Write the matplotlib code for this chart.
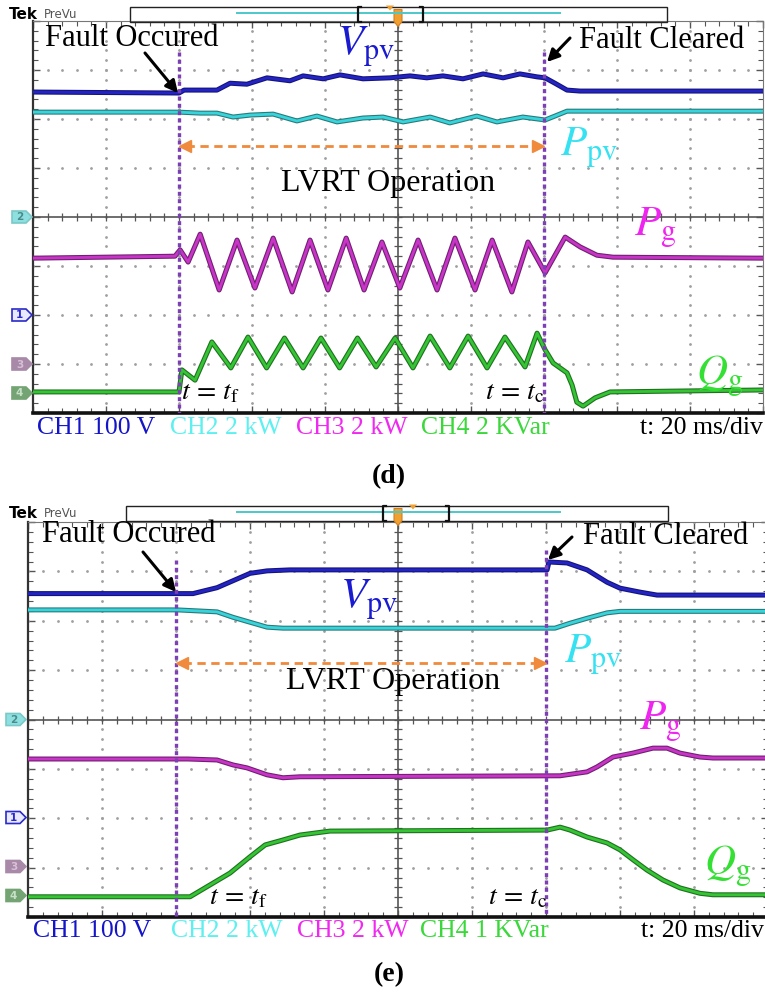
import numpy as np
import matplotlib.pyplot as plt
from matplotlib import patheffects as pe
from matplotlib.patches import Polygon, Rectangle

plt.rcParams["font.family"] = ["Liberation Serif", "DejaVu Serif"]
plt.rcParams["mathtext.fontset"] = "stix"

# fault instants in ms (20 ms/div, 10 div on screen)
t_fault = 40.0
t_clear = 140.0

# ---- panel (d): time in ms, level in divisions from screen centre
d_vpv_t = [0, 40.0, 41.4, 50.4, 54.0, 58.6, 64.1, 70.4, 74.0, 79.5, 84.1, 90.4, 97.8,
           103.3, 107.9, 112.3, 117.8, 123.3, 128.8, 133.4, 138.1, 140.3, 143.0, 146.3,
           149.9, 200]
d_vpv_v = [2.55, 2.53, 2.59, 2.59, 2.73, 2.71, 2.84, 2.78, 2.88, 2.82, 2.90, 2.82, 2.84,
           2.88, 2.84, 2.88, 2.82, 2.92, 2.84, 2.92, 2.86, 2.84, 2.73, 2.59, 2.57, 2.57]

d_ppv_t = [0, 40.0, 45.8, 50.4, 54.8, 59.5, 65.8, 72.3, 77.8, 83.3, 90.4, 95.9, 101.4,
           108.8, 114.2, 121.6, 127.1, 134.2, 140.3, 143.0, 146.3, 200]
d_ppv_v = [2.14, 2.14, 2.12, 2.12, 2.04, 2.08, 2.10, 1.96, 2.06, 1.94, 2.02, 2.04, 1.94,
           2.04, 1.92, 2.06, 1.94, 2.04, 1.98, 2.06, 2.16, 2.16]

d_pg_t = [0, 38.9, 40.3, 42.5, 45.8, 51.0, 55.9, 60.8, 65.8, 71.0, 75.9, 80.8, 85.8, 90.7,
          95.6, 100.5, 105.5, 110.7, 115.6, 121.1, 125.8, 131.2, 135.6, 140.3, 145.8,
          149.9, 154.5, 158.9, 200]
d_pg_v = [-0.84, -0.80, -0.67, -0.92, -0.35, -1.49, -0.47, -1.45, -0.43, -1.53, -0.47,
          -1.49, -0.43, -1.49, -0.51, -1.45, -0.47, -1.49, -0.43, -1.49, -0.47, -1.53,
          -0.51, -1.14, -0.41, -0.61, -0.78, -0.82, -0.84]

d_qg_t = [0, 40.0, 40.8, 44.4, 49.0, 54.2, 58.9, 64.0, 68.9, 74.0, 78.9, 84.0, 88.9, 94.0,
          99.2, 104.1, 108.8, 114.2, 119.2, 124.4, 129.3, 134.8, 138.1, 140.3, 142.5,
          146.3, 147.7, 149.0, 150.7, 154.0, 158.1, 200]
d_qg_v = [-3.57, -3.57, -3.12, -3.33, -2.55, -3.08, -2.45, -3.08, -2.47, -3.08, -2.47,
          -3.08, -2.47, -3.06, -2.47, -3.08, -2.43, -3.08, -2.43, -3.08, -2.45, -3.06,
          -2.37, -2.71, -2.98, -3.18, -3.43, -3.78, -3.86, -3.69, -3.57, -3.53]

# ---- panel (e)
e_vpv_t = [0, 40.3, 44.6, 51.1, 55.4, 60.0, 64.6, 70.8, 140.3, 140.8, 145.7, 151.1,
           156.5, 160.0, 165.4, 170.0, 200]
e_vpv_v = [2.55, 2.55, 2.55, 2.67, 2.81, 2.96, 3.01, 3.03, 3.03, 3.19, 3.17, 3.03,
           2.78, 2.66, 2.58, 2.52, 2.52]

e_ppv_t = [0, 40.3, 51.1, 55.4, 60.0, 64.6, 68.9, 142.4, 146.5, 151.1, 156.5, 160.0, 200]
e_ppv_v = [2.22, 2.22, 2.18, 2.07, 1.97, 1.87, 1.85, 1.85, 1.95, 2.05, 2.16, 2.19, 2.19]

e_pg_t = [0, 43.2, 51.1, 55.4, 59.2, 64.6, 68.9, 73.5, 143.8, 151.1, 153.8, 158.1,
          163.5, 168.9, 172.7, 176.2, 181.6, 185.1, 200]
e_pg_v = [-0.80, -0.80, -0.82, -0.92, -0.98, -1.12, -1.18, -1.16, -1.14, -1.06, -0.96,
          -0.76, -0.68, -0.58, -0.58, -0.68, -0.76, -0.78, -0.78]

e_qg_t = [0, 43.8, 49.2, 54.6, 60.0, 64.1, 68.9, 73.5, 81.6, 140.3, 143.8, 146.5, 151.1,
          156.5, 160.0, 163.5, 167.3, 171.6, 176.2, 181.6, 185.1, 200]
e_qg_v = [-3.59, -3.59, -3.35, -3.11, -2.78, -2.54, -2.44, -2.34, -2.26, -2.24, -2.18,
          -2.24, -2.38, -2.50, -2.64, -2.84, -3.05, -3.25, -3.41, -3.52, -3.55, -3.55]

ch_labels_d = ["CH1 100 V", "CH2 2 kW", "CH3 2 kW", "CH4 2 KVar"]
ch_labels_e = ["CH1 100 V", "CH2 2 kW", "CH3 2 kW", "CH4 1 KVar"]
ch_text_col = ["#1414c8", "#5ef0f0", "#f028f0", "#3ad83a"]

W, H = 765, 994
fig = plt.figure(figsize=(W / 100, H / 100), dpi=100)


def px_axes(left, top, right, bottom):
    return fig.add_axes([left / W, 1 - bottom / H, (right - left) / W, (bottom - top) / H])


ax_d = px_axes(33, 21, 763, 413)
ax_e = px_axes(28, 522, 768, 917)
ov = fig.add_axes([0, 0, 1, 1])
ov.set_xlim(0, W)
ov.set_ylim(H, 0)
ov.axis("off")


def graticule(ax):
    ax.set_xlim(0, 200)
    ax.set_ylim(-4, 4)
    mx = np.arange(0, 201, 4.0)
    my = np.arange(-4, 4.01, 0.2)
    ax.set_xticks(np.arange(0, 201, 20))
    ax.set_xticks(mx, minor=True)
    ax.set_yticks(np.arange(-4, 5, 1))
    ax.set_yticks(my, minor=True)
    ax.tick_params(which="both", direction="in", top=True, right=True,
                   labelbottom=False, labelleft=False, colors="#555")
    ax.tick_params(which="major", length=5, width=1)
    ax.tick_params(which="minor", length=3.5, width=0.8)
    for gx in range(20, 200, 20):
        if gx != 100:
            ax.plot(np.full_like(my, gx), my, ls="none", marker=".", ms=2, color="#a0a0a0")
    for gy in range(-3, 4):
        if gy != 0:
            ax.plot(mx, np.full_like(mx, gy), ls="none", marker=".", ms=2, color="#a0a0a0")
    ax.axhline(0, color="#555", lw=1.2)
    ax.axvline(100, color="#555", lw=1.2)
    ax.plot(mx, np.zeros_like(mx), ls="none", marker="|", ms=6, mew=0.9, color="#555")
    ax.plot(np.full_like(my, 100), my, ls="none", marker="_", ms=6, mew=0.9, color="#555")
    ax.spines["bottom"].set_linewidth(2.6)
    ax.spines["bottom"].set_color("#111")
    ax.spines["left"].set_linewidth(1.6)
    ax.spines["left"].set_color("#333")
    ax.spines["top"].set_color("#777")
    ax.spines["right"].set_color("#777")


def trace(ax, t, v, col, edge):
    ax.plot(t, v, color=col, lw=2.0, solid_joinstyle="round", zorder=3,
            path_effects=[pe.Stroke(linewidth=3.6, foreground=edge), pe.Normal()])


def events(ax, top_f, top_c, y_arrow):
    purple = "#7c3fb4"
    ax.plot([t_fault, t_fault], [top_f, -4], color=purple, lw=2.4, ls=(0, (1.2, 1.0)), zorder=4)
    ax.plot([t_clear, t_clear], [top_c, -4], color=purple, lw=2.4, ls=(0, (1.2, 1.0)), zorder=4)
    orange = "#f08a3c"
    ax.plot([t_fault + 2, t_clear - 2], [y_arrow, y_arrow], color=orange, lw=2, ls=(0, (3, 2)), zorder=4)
    ax.plot([t_fault + 1.6], [y_arrow], marker="<", ms=9, color=orange, zorder=4)
    ax.plot([t_clear - 1.6], [y_arrow], marker=">", ms=9, color=orange, zorder=4)


for ax in (ax_d, ax_e):
    graticule(ax)

trace(ax_d, d_vpv_t, d_vpv_v, "#2424c4", "#14147a")
trace(ax_d, d_ppv_t, d_ppv_v, "#38d4dc", "#2a7a7a")
trace(ax_d, d_pg_t, d_pg_v, "#c834c8", "#702070")
trace(ax_d, d_qg_t, d_qg_v, "#34c434", "#207020")
events(ax_d, 3.37, 3.37, 1.45)

trace(ax_e, e_vpv_t, e_vpv_v, "#2424c4", "#14147a")
trace(ax_e, e_ppv_t, e_ppv_v, "#38d4dc", "#2a7a7a")
trace(ax_e, e_pg_t, e_pg_v, "#c834c8", "#702070")
trace(ax_e, e_qg_t, e_qg_v, "#34c434", "#207020")
events(ax_e, 3.23, 3.43, 1.14)


def header(yc, box_l, box_r, br_l, br_r, tri_x):
    ov.text(9, yc + 1, "Tek", fontfamily="DejaVu Sans", fontweight="bold", fontsize=11,
            va="center", ha="left")
    ov.text(44, yc + 1, "PreVu", fontfamily="DejaVu Sans", fontsize=8.5, color="#555",
            va="center", ha="left")
    ov.add_patch(Rectangle((box_l, yc - 7), box_r - box_l, 15, fill=False, ec="#222", lw=1))
    ov.plot([237, 560], [yc - 0.5, yc - 0.5], color="#4cc8cc", lw=1.4)
    for bx, s in ((br_l, 1), (br_r, -1)):
        ov.plot([bx + 3 * s, bx, bx, bx + 3 * s], [yc - 7, yc - 7, yc + 8, yc + 8], color="#111", lw=1.6)
    ov.add_patch(Polygon([[394, yc - 4], [402, yc - 4], [402, yc + 8], [398, yc + 13], [394, yc + 8]],
                         closed=True, fc="#f0a030", ec="#d08020", lw=0.8))
    ov.add_patch(Polygon([[tri_x - 4, yc - 8], [tri_x + 4, yc - 8], [tri_x, yc - 3]],
                         closed=True, fc="#f0a030", ec="none"))


def tag(x0, y, label, fc, ec, tc):
    ov.add_patch(Polygon([[x0, y - 6], [x0 + 14, y - 6], [x0 + 20, y], [x0 + 14, y + 6], [x0, y + 6]],
                         closed=True, fc=fc, ec=ec, lw=1.2))
    ov.text(x0 + 7.5, y + 0.5, label, fontfamily="DejaVu Sans", fontweight="bold", fontsize=7.5,
            color=tc, ha="center", va="center")


def labels(yoff, cy, tx, x_ch, x_div, notes):
    tag(tx, cy, "2", "#8ee0e0", "#7ac8c8", "#4a8a8a")
    tag(tx, cy + 98, "1", "#e8e8ff", "#2a2ac8", "#2a2ac8")
    tag(tx, cy + 147, "3", "#a88aa8", "#a88aa8", "#d8c0d8")
    tag(tx, cy + 176, "4", "#74a474", "#74a474", "#c8e0c8")
    big = 31
    ov.text(*notes["vpv"], r"$V_{\rm pv}$", color="#1a1ad0", fontsize=big, ha="center", va="center")
    ov.text(*notes["ppv"], r"$P_{\rm pv}$", color="#34e2f2", fontsize=big, ha="center", va="center")
    ov.text(*notes["pg"], r"$P_{\rm g}$", color="#f024f0", fontsize=big, ha="center", va="center")
    ov.text(*notes["qg"], r"$Q_{\rm g}$", color="#34e034", fontsize=big, ha="center", va="center")
    ov.text(*notes["occ"], "Fault Occured", fontsize=22, ha="center", va="center")
    ov.text(*notes["clr"], "Fault Cleared", fontsize=22, ha="center", va="center")
    ov.text(*notes["lvrt"], "LVRT Operation", fontsize=23, ha="center", va="center")
    ov.text(*notes["tf"], r"$t\,=\,t_{\rm f}$", fontsize=20, ha="center", va="center")
    ov.text(*notes["tc"], r"$t\,=\,t_{\rm c}$", fontsize=20, ha="center", va="center")
    ov.annotate("", xy=notes["a1"][1], xytext=notes["a1"][0],
                arrowprops=dict(arrowstyle="-|>", color="k", lw=2.2, mutation_scale=18,
                                shrinkA=0, shrinkB=0))
    ov.annotate("", xy=notes["a2"][1], xytext=notes["a2"][0],
                arrowprops=dict(arrowstyle="-|>", color="k", lw=2.2, mutation_scale=18,
                                shrinkA=0, shrinkB=0))
    chs = ch_labels_d if yoff == 0 else ch_labels_e
    for s, x, c in zip(chs, x_ch, ch_text_col):
        ov.text(x, notes["chy"], s, color=c, fontsize=18.5, ha="left", va="center")
    ov.text(x_div, notes["chy"], "t: 20 ms/div", fontsize=18.5, ha="right", va="center")


header(13.5, 130, 667, 358, 423, 390)
header(512.5, 126, 668, 383, 449, 413)

labels(0, 217, 12, [37, 170, 296, 421], 763, dict(
    vpv=(366, 47), ppv=(589, 148), pg=(655, 228), qg=(720, 377),
    occ=(132, 39), clr=(662, 40), lvrt=(388, 183), tf=(210, 393), tc=(515, 393),
    a1=((145, 53), (178, 93)), a2=((570, 38), (547, 62)), chy=428))
labels(1, 719.5, 6, [33, 171, 297, 420], 764, dict(
    vpv=(369, 600), ppv=(593, 655), pg=(660, 722), qg=(728, 867),
    occ=(129, 535), clr=(666, 536), lvrt=(393, 682), tf=(238, 898), tc=(518, 898),
    a1=((143, 552), (176, 592)), a2=((572, 537), (548, 560)), chy=931))

ov.text(389, 477, "(d)", fontsize=20, fontweight="bold", ha="center", va="center")
ov.text(389, 975, "(e)", fontsize=20, fontweight="bold", ha="center", va="center")

fig.savefig("out.png", dpi=100)
